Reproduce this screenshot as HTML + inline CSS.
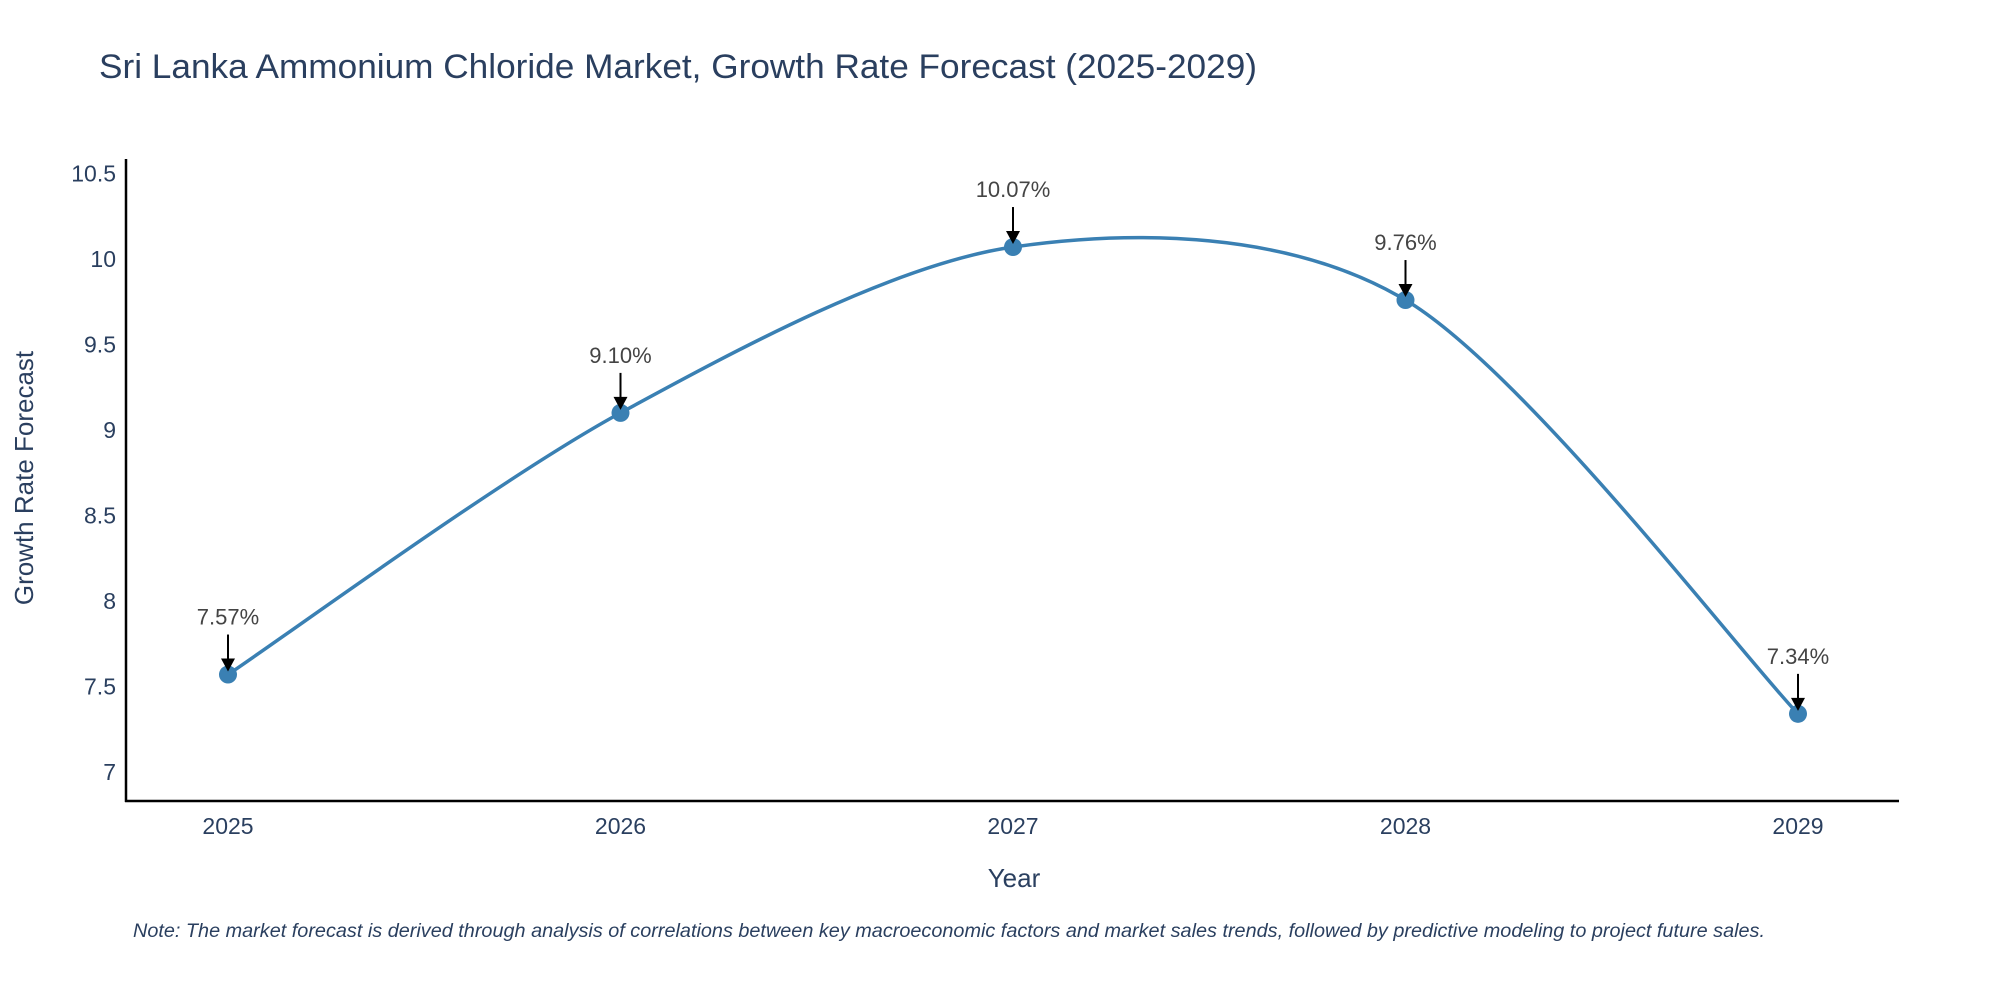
<!DOCTYPE html>
<html><head><meta charset="utf-8"><style>
body{margin:0;background:#fff;}
svg text{font-family:"Liberation Sans",sans-serif;}
</style></head><body>
<svg id="chart" width="2000" height="1000" xmlns="http://www.w3.org/2000/svg">
<text x="99" y="78" font-size="34" fill="#2a3f5f" textLength="1158" lengthAdjust="spacingAndGlyphs">Sri Lanka Ammonium Chloride Market, Growth Rate Forecast (2025-2029)</text>
<g id="yticks"></g>
<g id="xticks"></g>
<line x1="126" y1="159" x2="126" y2="802" stroke="#000" stroke-width="2.5"/>
<line x1="125" y1="801" x2="1899" y2="801" stroke="#000" stroke-width="2.5"/>
<path id="line" fill="none" stroke="#3a80b3" stroke-width="3.5"/>
<g id="marks"></g>
<text x="1014" y="887" font-size="26" fill="#2a3f5f" text-anchor="middle">Year</text>
<text transform="translate(33,478) rotate(-90)" font-size="26" fill="#2a3f5f" text-anchor="middle">Growth Rate Forecast</text>
<text x="133" y="937" font-size="19" font-style="italic" fill="#2a3f5f" textLength="1632" lengthAdjust="spacingAndGlyphs">Note: The market forecast is derived through analysis of correlations between key macroeconomic factors and market sales trends, followed by predictive modeling to project future sales.</text>
</svg>
<script>
const years = [2025, 2026, 2027, 2028, 2029];
const values = [7.57, 9.10, 10.07, 9.76, 7.34];
const labels = ["7.57%", "9.10%", "10.07%", "9.76%", "7.34%"];
const yTicks = [7, 7.5, 8, 8.5, 9, 9.5, 10, 10.5];
const yTickLabels = ["7", "7.5", "8", "8.5", "9", "9.5", "10", "10.5"];
const NS = "http://www.w3.org/2000/svg";
function xs(v){return 228 + (v - 2025) * (1798 - 228) / 4;}
function ys(v){return 772 - (v - 7) * (772 - 173.5) / 3.5;}
function mk(tag, attrs, parent){const e=document.createElementNS(NS,tag);for(const k in attrs)e.setAttribute(k,attrs[k]);parent.appendChild(e);return e;}
const yg=document.getElementById('yticks');
yTicks.forEach((t,i)=>{const e=mk('text',{x:116,y:ys(t)+8,'font-size':23,fill:'#2a3f5f','text-anchor':'end'},yg);


e.textContent=yTickLabels[i];});
const xg=document.getElementById('xticks');
years.forEach(y=>{const e=mk('text',{x:xs(y),y:834,'font-size':23,fill:'#2a3f5f','text-anchor':'middle'},xg);


e.textContent=y;});
const pts=years.map((y,i)=>[xs(y),ys(values[i])]);
let d=`M${pts[0][0]},${pts[0][1]}`;
const s=0.15;
for(let i=0;i<pts.length-1;i++){
 const p0=pts[i-1]||pts[i],p1=pts[i],p2=pts[i+1],p3=pts[i+2]||p2;
 const c1=[p1[0]+(p2[0]-p0[0])*s,p1[1]+(p2[1]-p0[1])*s];
 const c2=[p2[0]-(p3[0]-p1[0])*s,p2[1]-(p3[1]-p1[1])*s];
 d+=` C${c1[0]},${c1[1]} ${c2[0]},${c2[1]} ${p2[0]},${p2[1]}`;}
document.getElementById('line').setAttribute('d',d);
const mg=document.getElementById('marks');
pts.forEach((p,i)=>{
 const c=mk('circle',{cx:p[0],cy:p[1],r:9,fill:'#3a80b3'},mg);
 
 
 const l=mk('line',{x1:p[0],y1:p[1]-40,x2:p[0],y2:p[1]-12,stroke:'#000','stroke-width':2},mg);
 
 
 const a=mk('polygon',{points:`${p[0]-7},${p[1]-16} ${p[0]+7},${p[1]-16} ${p[0]},${p[1]-3}`,fill:'#000'},mg);
 
 
 const t=mk('text',{x:p[0],y:p[1]-50,'font-size':22,fill:'#444','text-anchor':'middle'},mg);
 
 
 t.textContent=labels[i];});
</script>
</body></html>
